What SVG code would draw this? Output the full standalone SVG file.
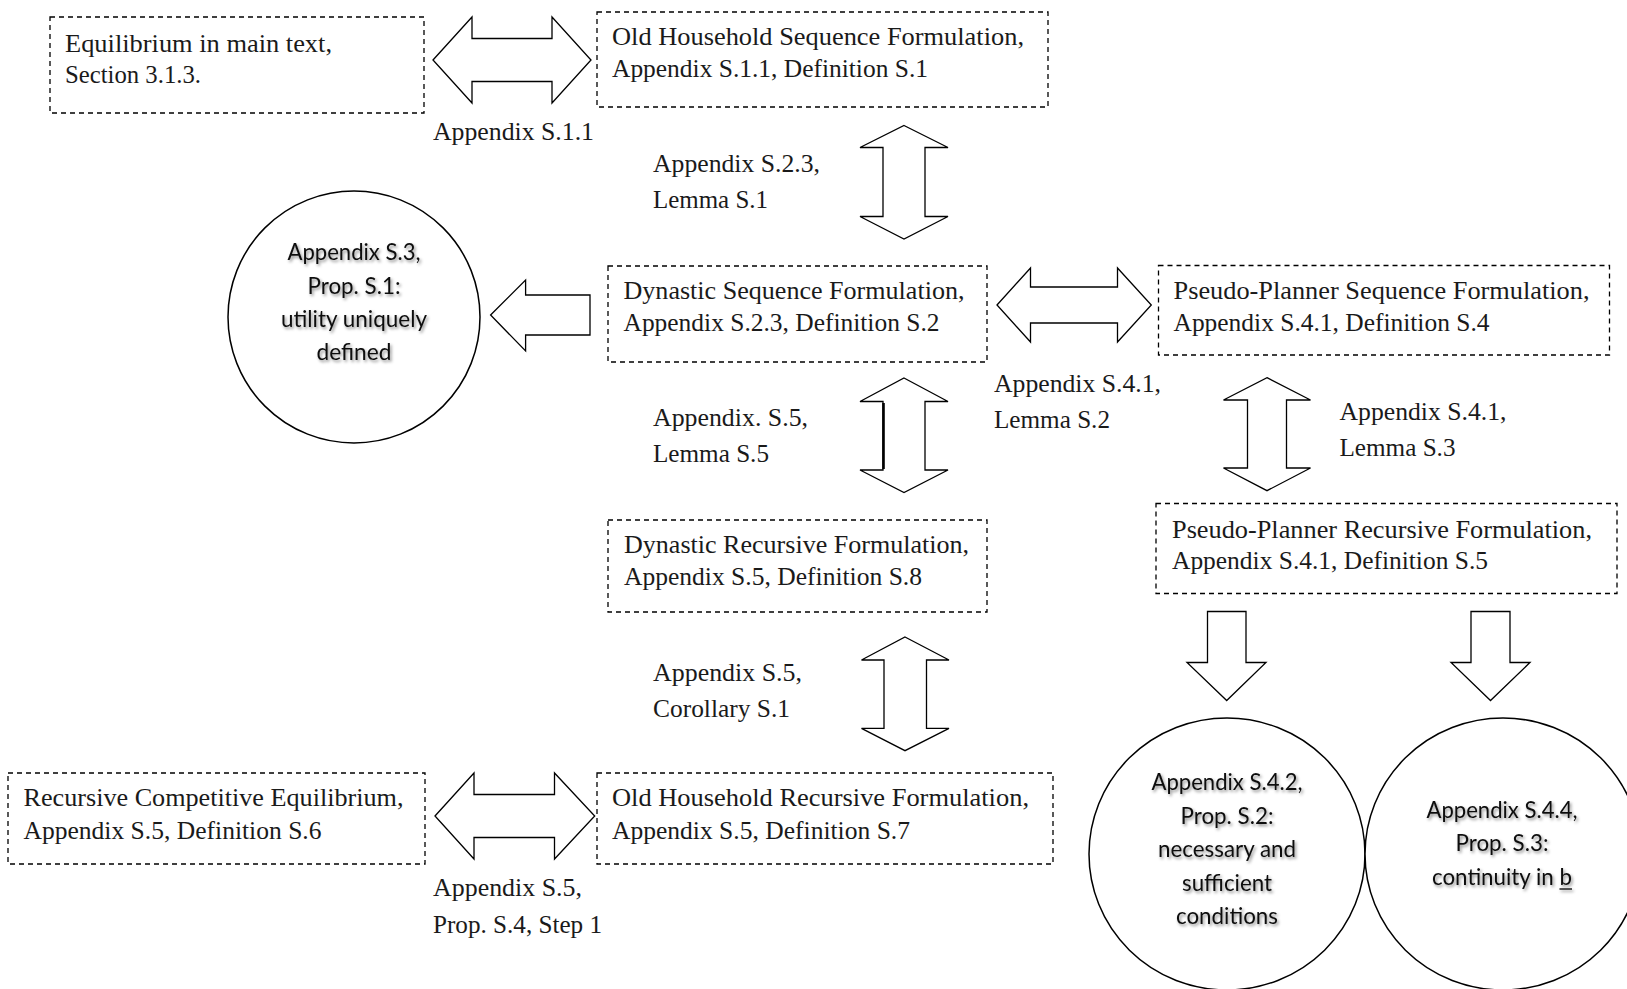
<svg xmlns="http://www.w3.org/2000/svg" width="1627" height="989" viewBox="0 0 1627 989">
<style>
.box{fill:#fff;stroke:#000;stroke-width:1.3;stroke-dasharray:5,4}
.arr{fill:#fff;stroke:#000;stroke-width:1.3;stroke-linejoin:miter}
.circ{fill:#fff;stroke:#000;stroke-width:1.5}
.t{font-family:"Liberation Serif","Times New Roman",serif;font-size:25px;fill:#1a1a1a}
.s{font-family:Lato,"Open Sans","Liberation Sans",sans-serif;font-size:23px;fill:#111;text-anchor:middle}
</style>
<defs>
<filter id="sh" x="-20%" y="-40%" width="140%" height="180%">
<feDropShadow dx="1.5" dy="2" stdDeviation="1.4" flood-color="#000" flood-opacity="0.45"/>
</filter>
</defs>
<rect width="1627" height="989" fill="#fff"/>

<g id="connectors">
<g id="c-eq-oldseq">
<polygon class="arr" points="433,60 472,17 472,38.5 552,38.5 552,17 591,60 552,103 552,81.5 472,81.5 472,103"/>
<text class="t" x="433" y="140" textLength="161" lengthAdjust="spacingAndGlyphs">Appendix S.1.1</text>
</g>
<g id="c-oldseq-dynseq">
<polygon class="arr" points="904,125.5 948,147.5 925,147.5 925,216.5 948,216.5 904,239 860,216.5 883,216.5 883,147.5 860,147.5"/>
<text class="t" x="653" y="172" textLength="167" lengthAdjust="spacingAndGlyphs">Appendix S.2.3,</text>
<text class="t" x="653" y="208" textLength="115" lengthAdjust="spacingAndGlyphs">Lemma S.1</text>
</g>
<g id="c-dynseq-util">
<polygon class="arr" points="490.6,315 525.6,280 525.6,295 590,295 590,335 525.6,335 525.6,351"/>
</g>
<g id="c-dynseq-ppseq">
<polygon class="arr" points="997,305 1030.5,268 1030.5,287 1117.5,287 1117.5,268 1151.3,305 1117.5,342 1117.5,323 1030.5,323 1030.5,342"/>
<text class="t" x="994" y="392" textLength="167" lengthAdjust="spacingAndGlyphs">Appendix S.4.1,</text>
<text class="t" x="994" y="428" textLength="116" lengthAdjust="spacingAndGlyphs">Lemma S.2</text>
</g>
<g id="c-dynseq-dynrec">
<polygon class="arr" points="904,378 948,401.5 925,401.5 925,470 948,470 904,492.5 860,470 883,470 883,401.5 860,401.5"/>
<line x1="883.5" y1="403" x2="883.5" y2="469" stroke="#000" stroke-width="2.6"/>
<text class="t" x="653" y="426" textLength="155" lengthAdjust="spacingAndGlyphs">Appendix. S.5,</text>
<text class="t" x="653" y="462" textLength="116" lengthAdjust="spacingAndGlyphs">Lemma S.5</text>
</g>
<g id="c-ppseq-pprec">
<polygon class="arr" points="1267,377.7 1310.5,400 1286.5,400 1286.5,468 1310.5,468 1267,490.7 1223.5,468 1247.5,468 1247.5,400 1223.5,400"/>
<text class="t" x="1339.5" y="420" textLength="167" lengthAdjust="spacingAndGlyphs">Appendix S.4.1,</text>
<text class="t" x="1339.5" y="456" textLength="116" lengthAdjust="spacingAndGlyphs">Lemma S.3</text>
</g>
<g id="c-dynrec-oldrec">
<polygon class="arr" points="905,637 949,660 926.5,660 926.5,728.3 949,728.3 905,750.7 861.5,728.3 884,728.3 884,660 861.5,660"/>
<text class="t" x="653" y="681" textLength="149" lengthAdjust="spacingAndGlyphs">Appendix S.5,</text>
<text class="t" x="653" y="717" textLength="137" lengthAdjust="spacingAndGlyphs">Corollary S.1</text>
</g>
<g id="c-rce-oldrec">
<polygon class="arr" points="435,816 474,773 474,794.5 554.5,794.5 554.5,773 594.7,816 554.5,859 554.5,837.5 474,837.5 474,859"/>
<text class="t" x="433" y="896" textLength="149" lengthAdjust="spacingAndGlyphs">Appendix S.5,</text>
<text class="t" x="433" y="933" textLength="169" lengthAdjust="spacingAndGlyphs">Prop. S.4, Step 1</text>
</g>
<g id="c-pprec-prop2">
<polygon class="arr" points="1207.5,611.5 1246,611.5 1246,662.5 1266,662.5 1226.7,700.5 1187,662.5 1207.5,662.5"/>
</g>
<g id="c-pprec-prop3">
<polygon class="arr" points="1471,611.5 1510,611.5 1510,662.5 1530,662.5 1490.5,700.5 1451,662.5 1471,662.5"/>
</g>
</g>

<g id="n-equilibrium">
<rect class="box" x="50" y="17" width="374" height="96"/>
<text class="t" x="65" y="52" textLength="267" lengthAdjust="spacingAndGlyphs">Equilibrium in main text,</text>
<text class="t" x="65" y="83" textLength="136" lengthAdjust="spacingAndGlyphs">Section 3.1.3.</text>
</g>

<g id="n-oldhh-seq">
<rect class="box" x="597" y="12" width="451" height="95"/>
<text class="t" x="612" y="45" textLength="412" lengthAdjust="spacingAndGlyphs">Old Household Sequence Formulation,</text>
<text class="t" x="612" y="77" textLength="316" lengthAdjust="spacingAndGlyphs">Appendix S.1.1, Definition S.1</text>
</g>

<g id="n-utility">
<circle class="circ" cx="354" cy="317" r="126"/>
<g filter="url(#sh)">
<text class="s" x="354" y="260" textLength="133" lengthAdjust="spacingAndGlyphs">Appendix S.3,</text>
<text class="s" x="354" y="294" textLength="93" lengthAdjust="spacingAndGlyphs">Prop. S.1:</text>
<text class="s" x="354" y="327" textLength="146" lengthAdjust="spacingAndGlyphs">utility uniquely</text>
<text class="s" x="354" y="360" textLength="75" lengthAdjust="spacingAndGlyphs">defined</text>
</g>
</g>

<g id="n-dyn-seq">
<rect class="box" x="608" y="266" width="379" height="96"/>
<text class="t" x="623.5" y="299" textLength="341" lengthAdjust="spacingAndGlyphs">Dynastic Sequence Formulation,</text>
<text class="t" x="623.5" y="331" textLength="316" lengthAdjust="spacingAndGlyphs">Appendix S.2.3, Definition S.2</text>
</g>

<g id="n-pp-seq">
<rect class="box" x="1158.5" y="265.5" width="451" height="89.5"/>
<text class="t" x="1173.5" y="299" textLength="416" lengthAdjust="spacingAndGlyphs">Pseudo-Planner Sequence Formulation,</text>
<text class="t" x="1173.5" y="331" textLength="316" lengthAdjust="spacingAndGlyphs">Appendix S.4.1, Definition S.4</text>
</g>

<g id="n-dyn-rec">
<rect class="box" x="608" y="520" width="379" height="92"/>
<text class="t" x="624" y="553" textLength="345" lengthAdjust="spacingAndGlyphs">Dynastic Recursive Formulation,</text>
<text class="t" x="624" y="585" textLength="298" lengthAdjust="spacingAndGlyphs">Appendix S.5, Definition S.8</text>
</g>

<g id="n-pp-rec">
<rect class="box" x="1156" y="503.5" width="461" height="90"/>
<text class="t" x="1172" y="538" textLength="420" lengthAdjust="spacingAndGlyphs">Pseudo-Planner Recursive Formulation,</text>
<text class="t" x="1172" y="569" textLength="316" lengthAdjust="spacingAndGlyphs">Appendix S.4.1, Definition S.5</text>
</g>

<g id="n-rce">
<rect class="box" x="8" y="773" width="417" height="91"/>
<text class="t" x="23.5" y="806" textLength="380" lengthAdjust="spacingAndGlyphs">Recursive Competitive Equilibrium,</text>
<text class="t" x="23.5" y="839" textLength="298" lengthAdjust="spacingAndGlyphs">Appendix S.5, Definition S.6</text>
</g>

<g id="n-oldhh-rec">
<rect class="box" x="597" y="773" width="456" height="91"/>
<text class="t" x="612" y="806" textLength="417" lengthAdjust="spacingAndGlyphs">Old Household Recursive Formulation,</text>
<text class="t" x="612" y="839" textLength="298" lengthAdjust="spacingAndGlyphs">Appendix S.5, Definition S.7</text>
</g>

<g id="n-prop-s2">
<ellipse class="circ" cx="1227" cy="854" rx="138" ry="136"/>
<g filter="url(#sh)">
<text class="s" x="1227" y="790" textLength="151" lengthAdjust="spacingAndGlyphs">Appendix S.4.2,</text>
<text class="s" x="1227" y="824" textLength="93" lengthAdjust="spacingAndGlyphs">Prop. S.2:</text>
<text class="s" x="1227" y="857" textLength="138" lengthAdjust="spacingAndGlyphs">necessary and</text>
<text class="s" x="1227" y="891" textLength="90" lengthAdjust="spacingAndGlyphs">sufficient</text>
<text class="s" x="1227" y="924" textLength="102" lengthAdjust="spacingAndGlyphs">conditions</text>
</g>
</g>

<g id="n-prop-s3">
<ellipse class="circ" cx="1503" cy="854" rx="138" ry="136"/>
<g filter="url(#sh)">
<text class="s" x="1502" y="818" textLength="151" lengthAdjust="spacingAndGlyphs">Appendix S.4.4,</text>
<text class="s" x="1502" y="851" textLength="93" lengthAdjust="spacingAndGlyphs">Prop. S.3:</text>
<text class="s" x="1502" y="885" textLength="140" lengthAdjust="spacingAndGlyphs">continuity in b</text>
<line x1="1559.5" y1="889" x2="1572" y2="889" stroke="#111" stroke-width="1.4"/>
</g>
</g>
</svg>
